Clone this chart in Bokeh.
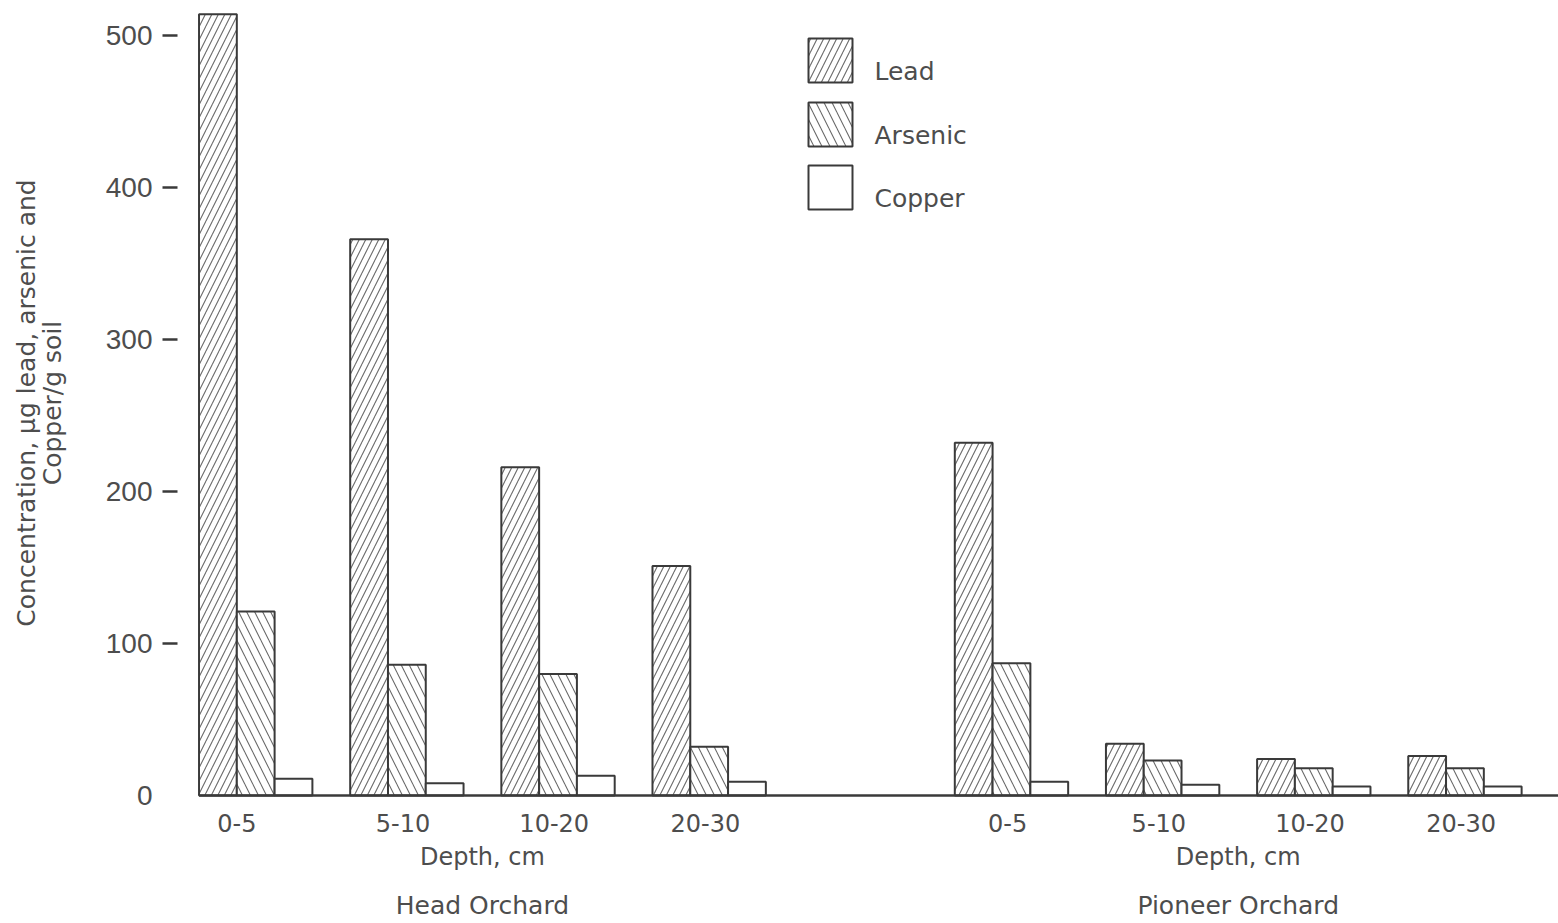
from bokeh.plotting import figure
from bokeh.models import (ColumnDataSource, Range1d, FixedTicker, LinearAxis)
from bokeh.core.properties import value
from bokeh.embed import file_html
from bokeh.resources import INLINE

# ---------------- data ----------------
orchards = ["Head Orchard", "Pioneer Orchard"]
depths = ["0-5", "5-10", "10-20", "20-30"]
series = ["Lead", "Arsenic", "Copper"]
head_lead = [514, 366, 216, 151]
head_arsenic = [121, 86, 80, 32]
head_copper = [11, 8, 13, 9]
pioneer_lead = [232, 34, 24, 26]
pioneer_arsenic = [87, 23, 18, 18]
pioneer_copper = [9, 7, 6, 6]
y_ticks = [0, 100, 200, 300, 400, 500]
x_title = "Depth, cm"
y_title = "Concentration, \u03bcg lead, arsenic and\nCopper/g soil"

values = {
    "Head Orchard": [head_lead, head_arsenic, head_copper],
    "Pioneer Orchard": [pioneer_lead, pioneer_arsenic, pioneer_copper],
}

# ---------------- layout / style ----------------
SLOT = 20.0        # data units per depth slot
BAR = 5.0          # bar width in data units
TEXT = "#4d4d4d"
INK = "#3a3a3a"
X0, X1 = -5.76, 179.88
Y0, Y1 = -3.29, 519.74
FL, FR, FT, FB = 155, 1558, 5, 800   # frame edges in canvas px

def xd(px):
    return X0 + (px - FL) * (X1 - X0) / (FR - FL)

def yd(py):
    return Y0 + (FB - py) * (Y1 - Y0) / (FB - FT)

def slot_of(o, j):
    return o * (len(depths) + 1) + j

hatches = {"Lead": ("/", 13), "Arsenic": ("\\", 16), "Copper": (" ", 8)}

p = figure(width=1558, height=923,
           x_range=Range1d(X0, X1), y_range=Range1d(Y0, Y1),
           output_backend="svg", toolbar_location=None,
           min_border_left=FL, min_border_right=0,
           min_border_top=FT, min_border_bottom=923 - FB,
           background_fill_color="white", border_fill_color="white",
           outline_line_color=None)
p.xgrid.visible = False
p.ygrid.visible = False

bar_style = dict(fill_color="white", line_color=INK, line_width=2,
                 hatch_color="#6a6a6a", hatch_weight=1.1)

for b, s in enumerate(series):
    xs, tops = [], []
    for o, orch in enumerate(orchards):
        for j, d in enumerate(depths):
            xs.append(slot_of(o, j) * SLOT + (b + 0.5) * BAR)
            tops.append(values[orch][b][j])
    src = ColumnDataSource(dict(x=xs, top=tops))
    pat, sc = hatches[s]
    p.vbar(x="x", top="top", bottom=0, width=BAR, source=src,
           hatch_pattern=pat, hatch_scale=sc, **bar_style)

# baseline
p.segment(x0=[0], x1=[X1], y0=[0], y1=[0], line_color=INK, line_width=2.5)

# y tick dashes (detached from the frame, none at 0)
dash_y = [t for t in y_ticks if t != 0]
p.segment(x0=[xd(162)] * len(dash_y), x1=[xd(177)] * len(dash_y), y0=dash_y, y1=dash_y,
          line_color=INK, line_width=2.5)

# x axis: depth labels
tick_pos = []
overrides = {}
for o, orch in enumerate(orchards):
    for j, d in enumerate(depths):
        off = 5 if (o == 0 and j == 0) else 7
        t = int(slot_of(o, j) * SLOT + off)
        tick_pos.append(t)
        overrides[t] = d

def style_x(ax, size, standoff):
    ax.axis_line_color = None
    ax.major_tick_line_color = None
    ax.minor_tick_line_color = None
    ax.major_tick_in = 0
    ax.major_tick_out = 0
    ax.major_label_standoff = standoff
    ax.major_label_text_font = "DejaVu Sans"
    ax.major_label_text_font_size = size
    ax.major_label_text_color = TEXT

xa = p.xaxis[0]
xa.ticker = FixedTicker(ticks=tick_pos)
xa.major_label_overrides = overrides
style_x(xa, "24px", 13)

# second / third rows under the axis: "Depth, cm" and orchard names
centers = [(slot_of(o, 0) * SLOT + slot_of(o, len(depths) - 1) * SLOT + 3 * BAR) / 2
           for o in range(len(orchards))]
ax_depth = LinearAxis(ticker=FixedTicker(ticks=centers),
                      major_label_overrides={c: x_title for c in centers})
style_x(ax_depth, "24px", 8)
p.add_layout(ax_depth, "below")
ax_orch = LinearAxis(ticker=FixedTicker(ticks=centers),
                     major_label_overrides={c: n for c, n in zip(centers, orchards)})
style_x(ax_orch, "25px", 17)
p.add_layout(ax_orch, "below")

# y axis
ya = p.yaxis[0]
ya.ticker = FixedTicker(ticks=y_ticks)
ya.axis_line_color = None
ya.major_tick_line_color = None
ya.minor_tick_line_color = None
ya.major_tick_in = 0
ya.major_tick_out = 0
ya.major_label_standoff = 3
ya.major_label_text_font = "Liberation Sans"
ya.major_label_text_font_size = "28px"
ya.major_label_text_color = TEXT
ya.axis_label = y_title
ya.axis_label_text_font = "DejaVu Sans"
ya.axis_label_text_font_style = "normal"
ya.axis_label_text_font_size = "25px"
ya.axis_label_text_color = TEXT
ya.axis_label_text_line_height = 0.9
ya.axis_label_standoff = 36

# legend (drawn manually so the labels sit low, as in the original)
sw_left, sw_size, sw_tops = 808, 44, [38, 102, 165]
lx = [xd(sw_left + sw_size / 2)] * len(series)
ly = [yd(t + sw_size / 2) for t in sw_tops]
for b, s in enumerate(series):
    pat, sc = hatches[s]
    p.rect(x=[lx[b]], y=[ly[b]], width=sw_size, height=sw_size,
           width_units="screen", height_units="screen",
           hatch_pattern=pat, hatch_scale=sc, **bar_style)
p.text(x=[xd(874)] * len(series), y=[yd(t + sw_size / 2 + 11) for t in sw_tops],
       text=series, text_align="left", text_baseline="middle",
       text_font=value("DejaVu Sans"), text_font_size="25px", text_color=TEXT)

open("out.html", "w").write(file_html(p, INLINE))
